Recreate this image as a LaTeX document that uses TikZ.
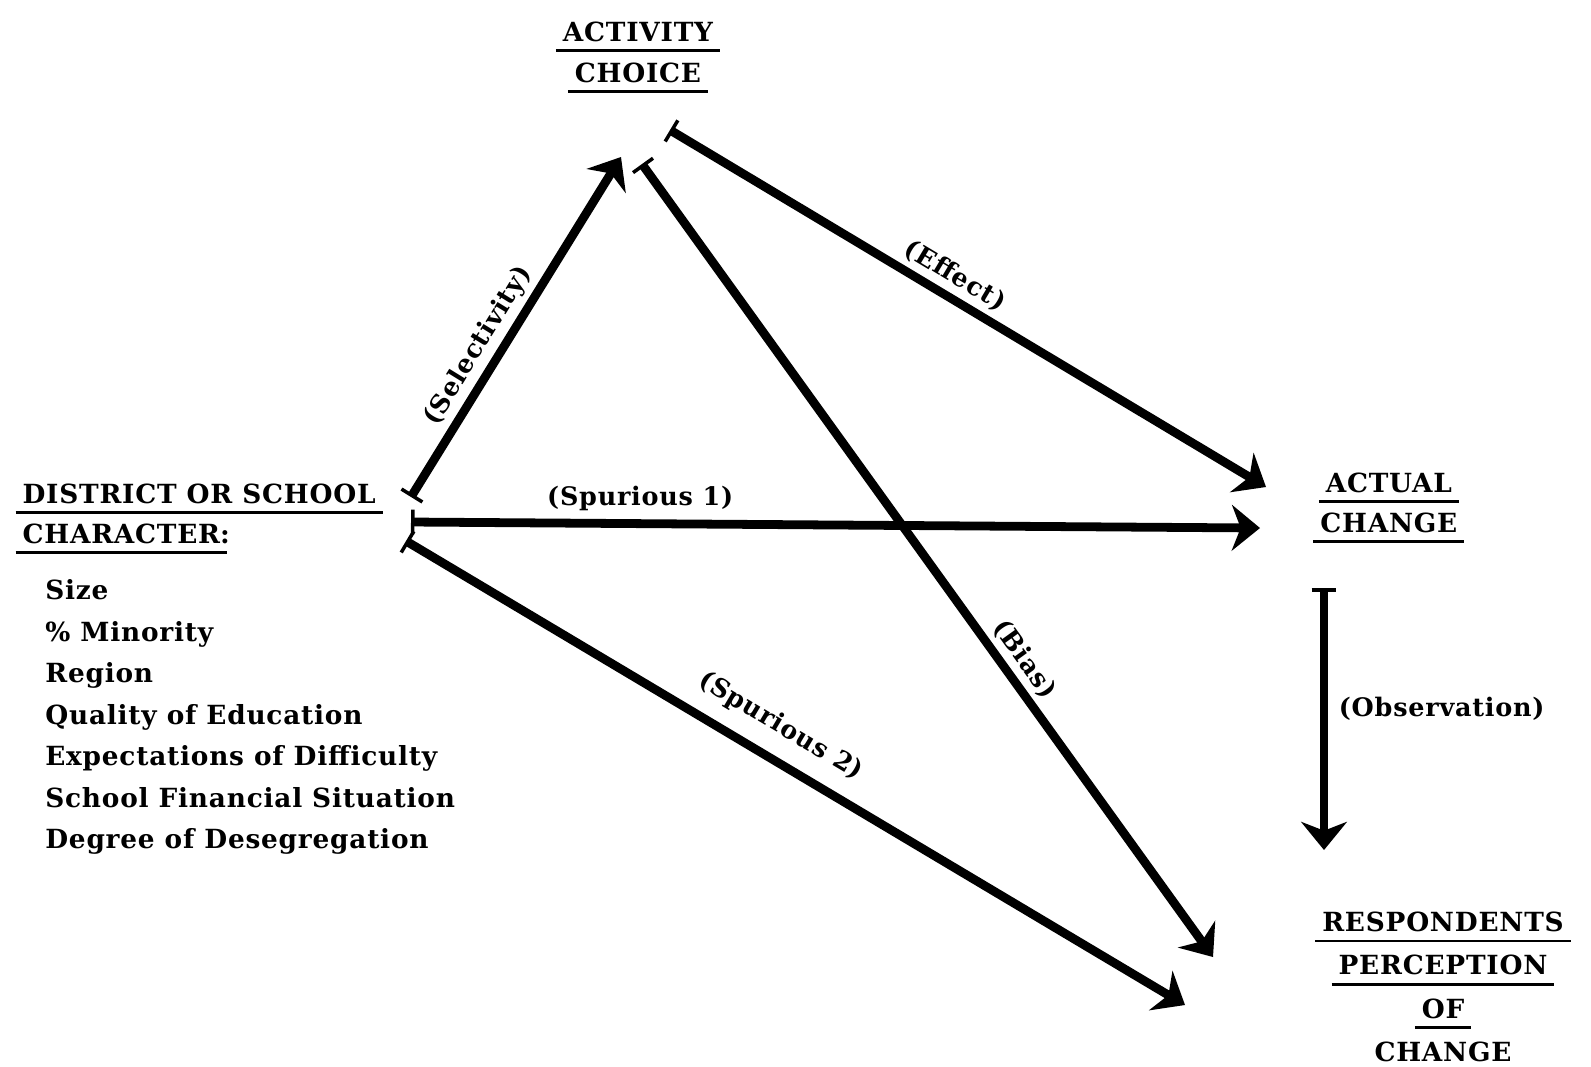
\documentclass[tikz,border=0pt]{standalone}
\usepackage{fontspec}
\setmainfont{DejaVu Serif}[LetterSpace=3]
\usetikzlibrary{arrows.meta}
\newcommand{\ulined}[1]{\sbox0{#1}\rlap{\hspace{-4pt}\rule[-6pt]{\dimexpr\wd0+8pt\relax}{1.6pt}}\usebox0}

\begin{document}
\begin{tikzpicture}[x=0.02cm, y=-0.02cm]
  \tikzset{
    concept/.style={font=\fontsize{15}{23}\selectfont\bfseries, align=center, inner sep=0pt},
    factor/.style={font=\fontsize{15}{23.6}\selectfont\bfseries, align=left, inner sep=0pt},
    link/.style={line width=5pt, arrows={Bar[width=14pt,line width=2pt]-Stealth[length=16pt,width=26pt,inset=5pt]}},
    tag/.style={font=\fontsize{14.5}{18}\selectfont\bfseries, inner sep=3pt}
  }
  \useasboundingbox (0,0) rectangle (1591,1066);

  % the four groups of variables
  \node[concept, anchor=south] (choice) at (638,93) {\ulined{ACTIVITY}\\\ulined{CHOICE}};
  \node[concept, anchor=east, align=left] (district) at (376,519) {\ulined{DISTRICT OR SCHOOL}\\\ulined{CHARACTER}:};
  \node[factor, anchor=west] (factors) at (45,717) {Size\\\% Minority\\Region\\Quality of Education\\Expectations of Difficulty\\School Financial Situation\\Degree of Desegregation};
  \node[concept, anchor=west] (actual) at (1320,508) {\ulined{ACTUAL}\\\ulined{CHANGE}};
  \node[concept, anchor=north, font=\fontsize{15}{24.5}\selectfont\bfseries] (respondents) at (1443,912) {\ulined{RESPONDENTS}\\\ulined{PERCEPTION}\\\ulined{OF}\\\ulined{CHANGE}};

  % paths between them
  \draw[link] ([shift={(35,-22)}]district.east) -- node[tag, sloped, above, pos=0.41] {(Selectivity)} ([shift={(-17,64)}]choice.south);
  \draw[link] ([shift={(32,37)}]choice.south) -- node[tag, sloped, above, pos=0.46] {(Effect)} ([shift={(-54,-21)}]actual.west);
  \draw[link] ([shift={(4,71)}]choice.south) -- node[tag, sloped, above, pos=0.64] {(Bias)} ([shift={(-230,45)}]respondents.north);
  \draw[link] ([shift={(35,3)}]district.east) -- node[tag, above=2pt, pos=0.27] {(Spurious 1)} ([shift={(-60,20)}]actual.west);
  \draw[link] ([shift={(30,22)}]district.east) -- node[tag, sloped, above=6pt, pos=0.46] {(Spurious 2)} ([shift={(-258,93)}]respondents.north);
  \draw[link] ([shift={(4,80)}]actual.west) -- node[tag, right=3pt, pos=0.46] {(Observation)} ([shift={(-119,-62)}]respondents.north);
\end{tikzpicture}
\end{document}
